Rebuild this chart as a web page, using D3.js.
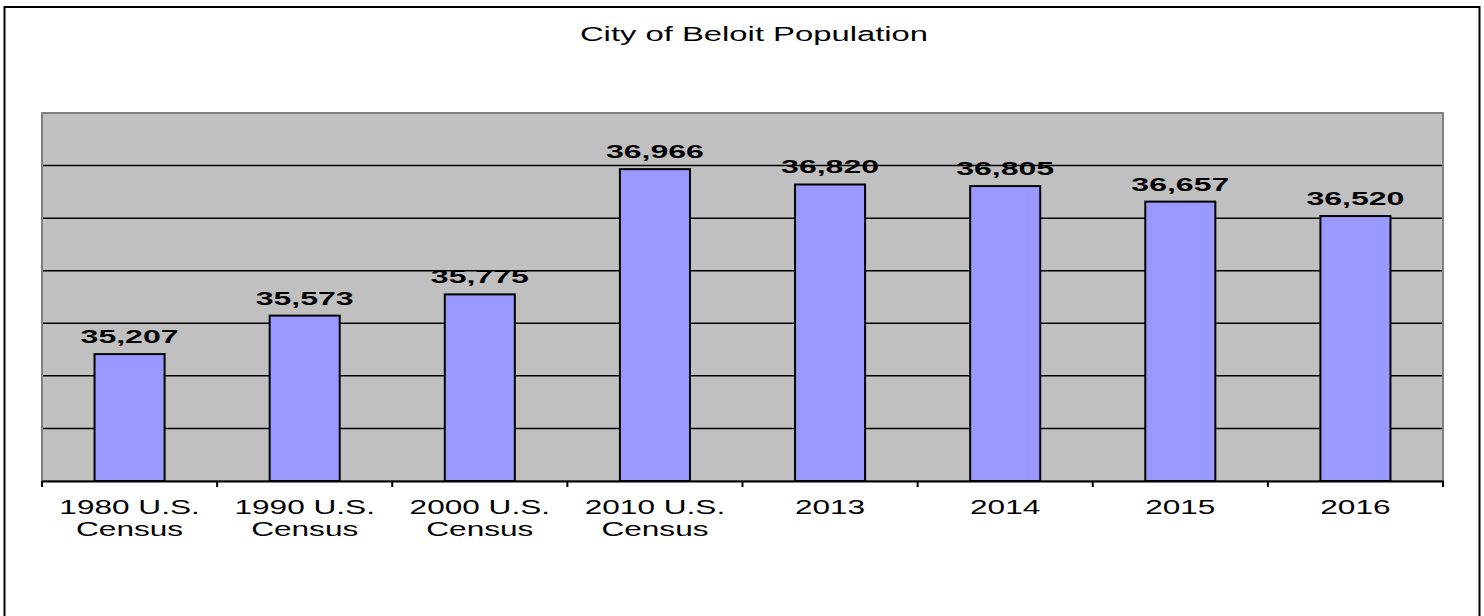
<!DOCTYPE html>
<html>
<head>
<meta charset="utf-8">
<script src="https://cdn.jsdelivr.net/npm/d3@7"></script>
<style>
  html, body { margin: 0; padding: 0; background: #fff; }
  svg { display: block; }
  text { font-family: "Liberation Sans", Arial, sans-serif; fill: #000; }
</style>
</head>
<body>
<svg id="chart" width="1484" height="616"></svg>
<script>
// Population figures for the City of Beloit
const categories = [
  ["1980 U.S.", "Census"],
  ["1990 U.S.", "Census"],
  ["2000 U.S.", "Census"],
  ["2010 U.S.", "Census"],
  ["2013"],
  ["2014"],
  ["2015"],
  ["2016"]
];
const population = [35207, 35573, 35775, 36966, 36820, 36805, 36657, 36520];
const yDomain = [34000, 37500];
const gridValues = [34500, 35000, 35500, 36000, 36500, 37000];
const title = "City of Beloit Population";

const svg = d3.select("#chart");
const W = 1484, H = 616;

// Chart frame
svg.append("rect")
  .attr("x", 4.5).attr("y", 7).attr("width", 1475).attr("height", H + 10)
  .attr("fill", "#fff").attr("stroke", "#000").attr("stroke-width", 2);

// Plot area
const plot = { left: 42, right: 1443, top: 113, bottom: 481 };

const keys = categories.map(d => d.join(" "));
const x = d3.scaleBand()
  .domain(keys)
  .range([plot.left, plot.right])
  .paddingInner(0.6)
  .paddingOuter(0.3);

const y = d3.scaleLinear().domain(yDomain).range([plot.bottom, plot.top]);

// Grey plot background with its border
svg.append("rect")
  .attr("x", plot.left).attr("y", plot.top)
  .attr("width", plot.right - plot.left).attr("height", plot.bottom - plot.top)
  .attr("fill", "#c0c0c0").attr("stroke", "#808080").attr("stroke-width", 2);

// Horizontal gridlines
svg.append("g")
  .selectAll("line")
  .data(gridValues)
  .join("line")
  .attr("x1", plot.left + 1).attr("x2", plot.right - 1)
  .attr("y1", d => y(d)).attr("y2", d => y(d))
  .attr("stroke", "#000").attr("stroke-width", 1.5);

// Bars
svg.append("g")
  .selectAll("rect")
  .data(population)
  .join("rect")
  .attr("x", (d, i) => x(keys[i]))
  .attr("y", d => y(d))
  .attr("width", x.bandwidth())
  .attr("height", d => y(yDomain[0]) - y(d))
  .attr("fill", "#9999ff")
  .attr("stroke", "#000").attr("stroke-width", 2);

// Category axis: baseline plus boundary ticks
const step = x.step();
const outer = (plot.right - plot.left - step * keys.length) / 2;
const boundaries = d3.range(keys.length + 1).map(i => plot.left + outer + i * step);
svg.append("line")
  .attr("x1", plot.left).attr("x2", plot.right + 1)
  .attr("y1", plot.bottom + 0.5).attr("y2", plot.bottom + 0.5)
  .attr("stroke", "#000").attr("stroke-width", 2);
svg.append("g")
  .selectAll("line")
  .data(boundaries)
  .join("line")
  .attr("x1", d => d).attr("x2", d => d)
  .attr("y1", plot.bottom).attr("y2", plot.bottom + 6)
  .attr("stroke", "#000").attr("stroke-width", 2);

// Stretched text helper (wide rendering of the chart lettering)
function wideText(g, cx, cy, str, size, sx, weight) {
  g.append("text")
    .attr("transform", `translate(${cx},${cy}) scale(${sx},1)`)
    .attr("text-anchor", "middle")
    .style("font-size", size + "px")
    .style("font-weight", weight || "normal")
    .text(str);
}

// Category labels
const labels = svg.append("g");
categories.forEach((lines, i) => {
  const cx = x(keys[i]) + x.bandwidth() / 2;
  lines.forEach((ln, j) => wideText(labels, cx, 514 + j * 22, ln, 19.5, 1.62));
});

// Value labels above bars
const fmt = d3.format(",");
const vals = svg.append("g");
population.forEach((v, i) => {
  const cx = x(keys[i]) + x.bandwidth() / 2;
  wideText(vals, cx, y(v) - 11, fmt(v), 18, 1.78, "bold");
});

// Title
wideText(svg, 754, 41, title, 20.5, 1.6);
</script>
</body>
</html>
